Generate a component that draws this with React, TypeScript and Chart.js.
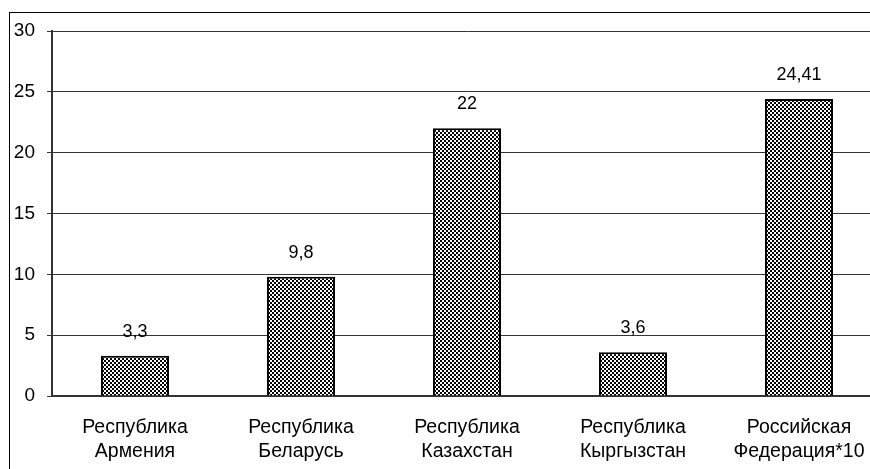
import React, { useEffect, useRef } from "react";
import { Chart, registerables } from "chart.js";

Chart.register(...registerables);

const categories: string[][] = [
  ["Республика", "Армения"],
  ["Республика", "Беларусь"],
  ["Республика", "Казахстан"],
  ["Республика", "Кыргызстан"],
  ["Российская", "Федерация*10"],
];
const values: number[] = [3.3, 9.8, 22, 3.6, 24.41];
const yMin = 0;
const yMax = 30;
const yStep = 5;

const FONT = "Arial, 'Liberation Sans', sans-serif";

function makePattern(): CanvasPattern | string {
  const c = document.createElement("canvas");
  c.width = 4;
  c.height = 4;
  const g = c.getContext("2d");
  if (!g) return "#777";
  g.fillStyle = "#ffffff";
  g.fillRect(0, 0, 4, 4);
  g.fillStyle = "#000000";
  g.fillRect(0, 0, 2, 2);
  g.fillRect(2, 2, 2, 2);
  const p = g.createPattern(c, "repeat");
  return p || "#777";
}

export default function App() {
  const ref = useRef<HTMLCanvasElement | null>(null);

  useEffect(() => {
    if (!ref.current) return;
    const frame = {
      id: "outerFrame",
      beforeDraw(chart: any) {
        const ctx = chart.ctx;
        ctx.save();
        ctx.fillStyle = "#fff";
        ctx.fillRect(0, 0, chart.width, chart.height);
        ctx.strokeStyle = "#000";
        ctx.lineWidth = 1;
        ctx.strokeRect(9.5, 12.5, 2000, 2000);
        ctx.restore();
      },
    };
    const labels = {
      id: "valueLabels",
      afterDatasetsDraw(chart: any) {
        const ctx = chart.ctx;
        const meta = chart.getDatasetMeta(0);
        ctx.save();
        ctx.font = `18px ${FONT}`;
        ctx.fillStyle = "#000";
        ctx.textAlign = "center";
        ctx.textBaseline = "middle";
        meta.data.forEach((el: any, i: number) => {
          const v = values[i];
          ctx.fillText(String(v).replace(".", ","), el.x, el.y - 24);
        });
        ctx.restore();
      },
    };
    const chart = new Chart(ref.current, {
      type: "bar",
      data: {
        labels: categories,
        datasets: [
          {
            data: values,
            backgroundColor: makePattern() as any,
            borderColor: "#000",
            borderWidth: 2,
            barPercentage: 0.41,
            categoryPercentage: 1,
          },
        ],
      },
      options: {
        responsive: false,
        animation: false,
        layout: { padding: { left: 0, right: 18, top: 31, bottom: 0 } },
        plugins: {
          legend: { display: false },
          tooltip: { enabled: false },
        },
        scales: {
          x: {
            grid: { display: false, drawTicks: false },
            border: { display: true, color: "#333", width: 2 },
            ticks: {
              color: "#000",
              font: { family: FONT, size: 19.5, lineHeight: 1.23 },
              padding: 20,
              maxRotation: 0,
              autoSkip: false,
            },
            afterFit(scale: any) {
              scale.height = 73;
            },
          },
          y: {
            min: yMin,
            max: yMax,
            ticks: {
              stepSize: yStep,
              color: "#000",
              font: { family: FONT, size: 19 },
              padding: 12,
            },
            grid: { color: "#333", lineWidth: 1, tickLength: 5 },
            border: { display: true, color: "#333", width: 2 },
            afterFit(scale: any) {
              scale.width = 52;
            },
          },
        },
      },
      plugins: [frame, labels],
    });
    return () => chart.destroy();
  }, []);

  return (
    <div
      style={{
        position: "fixed",
        left: 0,
        top: 0,
        width: 870,
        height: 469,
        overflow: "hidden",
        background: "#fff",
      }}
    >
      <canvas ref={ref} width={900} height={469} style={{ display: "block" }} />
    </div>
  );
}
